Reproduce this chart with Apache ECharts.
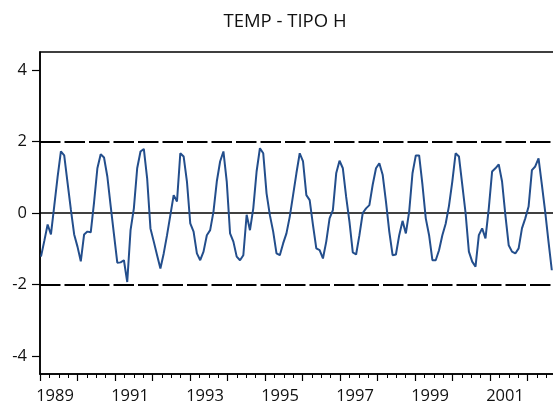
<!DOCTYPE html>
<html>
<head>
<meta charset="utf-8">
<script src="https://cdn.jsdelivr.net/npm/echarts@6/dist/echarts.min.js"></script>
<style>
html,body{margin:0;padding:0;background:#fff;}
#chart{width:553px;height:406px;}
</style>
</head>
<body>
<div id="chart"></div>
<script>
const tempValues = [
 -1.22,-0.78,-0.32,-0.60, 0.20, 1.00, 1.72, 1.61, 0.85, 0.10,-0.60,-0.94,
 -1.35,-0.60,-0.52,-0.54, 0.30, 1.25, 1.64, 1.55, 1.02, 0.20,-0.60,-1.39,
 -1.38,-1.32,-1.93,-0.48, 0.13, 1.25, 1.72, 1.79, 0.97,-0.43,-0.80,-1.18,
 -1.55,-1.13,-0.62,-0.06, 0.50, 0.32, 1.67, 1.58, 0.88,-0.29,-0.52,-1.13,
 -1.32,-1.08,-0.62,-0.48, 0.04, 0.88, 1.44, 1.72, 0.88,-0.57,-0.80,-1.22,
 -1.32,-1.18,-0.05,-0.48, 0.13, 1.16, 1.81, 1.67, 0.55,-0.06,-0.52,-1.13,
 -1.18,-0.85,-0.57,-0.10, 0.50, 1.11, 1.67, 1.44, 0.50, 0.36,-0.34,-0.99,
 -1.04,-1.27,-0.80,-0.15, 0.08, 1.11, 1.46, 1.25, 0.45,-0.25,-1.10,-1.16,
 -0.62, 0.00, 0.13, 0.22, 0.79, 1.25, 1.39, 1.07, 0.32,-0.52,-1.18,-1.16,
 -0.62,-0.22,-0.57, 0.04, 1.11, 1.61, 1.61, 0.79,-0.15,-0.62,-1.32,-1.32,
 -1.04,-0.62,-0.30, 0.20, 0.88, 1.67, 1.58, 0.79, 0.00,-1.08,-1.36,-1.50,
 -0.62,-0.43,-0.71, 0.13, 1.16, 1.25, 1.36, 0.88,-0.06,-0.90,-1.08,-1.13,
 -0.99,-0.43,-0.15, 0.18, 1.20, 1.30, 1.53, 0.79, 0.04,-0.80,-1.60
];
const yTickValues = [-4, -2, 0, 2, 4];
const bandLevels = [-2, 2];
const zeroLevel = 0;
const yearLabels = ['1989','1991','1993','1995','1997','1999','2001'];
const firstYear = 1989;
const lastYear = 2003;

const FONT = 'Open Sans';
const chart = echarts.init(document.getElementById('chart'), null, {renderer: 'canvas'});

const seriesData = tempValues.map((v, i) => [i, v]);
// year labels sit inside their year span, a little left of its middle
const labelShift = 0.4;
const yearLabelPositions = yearLabels.map(y => Number(y) + labelShift);

const markLines = bandLevels.map(l => ({
  yAxis: l,
  lineStyle: {color: '#000', width: 2, type: [20.5, 4], dashOffset: 0}
}));
markLines.push({yAxis: zeroLevel, lineStyle: {color: '#000', width: 1.5, type: 'solid'}});

chart.setOption({
  animation: false,
  backgroundColor: '#fff',
  title: {
    text: 'TEMP - TIPO H',
    left: 280,
    top: 7,
    textAlign: 'center',
    textStyle: {fontFamily: FONT, fontSize: 18.5, fontWeight: 'normal', color: '#111'}
  },
  grid: {
    left: 40, top: 52, width: 525, height: 322,
    outerBoundsMode: 'none',
    containLabel: false,
    show: true, borderColor: '#000', borderWidth: 1.5, backgroundColor: 'transparent'
  },
  xAxis: [
    {
      type: 'value',
      min: firstYear,
      max: lastYear,
      interval: 1,
      position: 'bottom',
      axisLine: {show: true, onZero: false, lineStyle: {color: '#000', width: 1.5}},
      axisTick: {show: true, length: 7, lineStyle: {color: '#000', width: 1.2}},
      minorTick: {show: true, splitNumber: 4, length: 4, lineStyle: {color: '#000', width: 1}},
      splitLine: {show: false},
      minorSplitLine: {show: false},
      axisLabel: {
        show: true,
        margin: 14,
        align: 'center',
        customValues: yearLabelPositions,
        fontFamily: FONT, fontSize: 16.5, color: '#111',
        formatter: v => String(Math.floor(v))
      }
    },
    {
      type: 'value',
      min: -0.3,
      max: -0.3 + 525 / 3.317,
      show: false
    }
  ],
  yAxis: {
    type: 'value',
    min: -4.5,
    max: 4.5,
    axisLine: {show: true, onZero: false, lineStyle: {color: '#000', width: 1.5}},
    axisTick: {show: true, length: 8, customValues: yTickValues, lineStyle: {color: '#000', width: 1.2}},
    axisLabel: {
      show: true, margin: 13, customValues: yTickValues,
      fontFamily: FONT, fontSize: 16.5, color: '#111'
    },
    splitLine: {show: false}
  },
  series: [{
    type: 'line',
    xAxisIndex: 1,
    data: seriesData,
    symbol: 'none',
    lineStyle: {color: '#234e8c', width: 2},
    z: 3,
    markLine: {
      silent: true,
      symbol: ['none', 'none'],
      label: {show: false},
      data: markLines,
      z: 2
    }
  }]
});
</script>
</body>
</html>
